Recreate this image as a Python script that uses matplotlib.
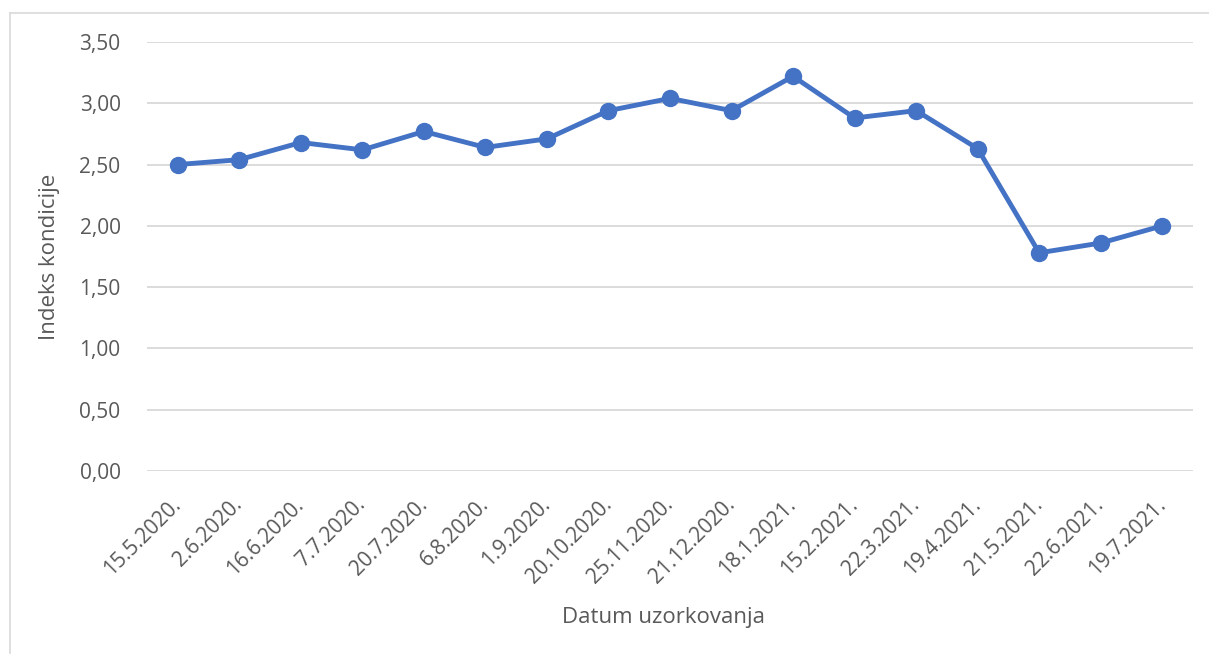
import matplotlib
matplotlib.use('Agg')
import matplotlib.pyplot as plt
from matplotlib.lines import Line2D

# sampling dates and condition index values
datumi = ['15.5.2020.', '2.6.2020.', '16.6.2020.', '7.7.2020.', '20.7.2020.',
          '6.8.2020.', '1.9.2020.', '20.10.2020.', '25.11.2020.', '21.12.2020.',
          '18.1.2021.', '15.2.2021.', '22.3.2021.', '19.4.2021.', '21.5.2021.',
          '22.6.2021.', '19.7.2021.']
indeks = [2.50, 2.54, 2.68, 2.62, 2.77, 2.64, 2.71, 2.94, 3.04, 2.94,
          3.22, 2.88, 2.94, 2.63, 1.78, 1.86, 2.00]
y_ticks = [0, 0.5, 1.0, 1.5, 2.0, 2.5, 3.0, 3.5]

plt.rcParams['font.family'] = ['Open Sans', 'DejaVu Sans']
txt_color = '#595959'
grid_color = '#D9D9D9'

fig = plt.figure(figsize=(12.09, 6.55), dpi=100)
ax = fig.add_axes([147 / 1209, 1 - 471 / 655, (1193 - 147) / 1209, (471 - 42) / 655])

x = list(range(len(datumi)))
ax.plot(x, indeks, color='#4472C4', linewidth=3.5, marker='o', markersize=11.5,
        solid_capstyle='round', solid_joinstyle='round', zorder=3)

ax.set_xlim(-0.5, len(datumi) - 0.5)
ax.set_ylim(0, 3.5)
ax.set_yticks(y_ticks)
ax.set_yticklabels(['{:.2f}'.format(v).replace('.', ',') for v in y_ticks])
ax.set_xticks(x)
ax.set_xticklabels(datumi, rotation=45, ha='right', va='center', rotation_mode='anchor')

ax.grid(axis='y', color=grid_color, linewidth=1.3)
ax.set_axisbelow(True)
for s in ax.spines.values():
    s.set_visible(False)
ax.tick_params(length=0, colors=txt_color, labelsize=15)
ax.tick_params(axis='y', pad=19)
ax.tick_params(axis='x', pad=22)

ax.set_ylabel('Indeks kondicije', color=txt_color, fontsize=16, labelpad=14)
fig.text(664 / 1209, 1 - 617 / 655, 'Datum uzorkovanja', color=txt_color,
         fontsize=16, ha='center', va='center')

# chart border (left and top edges)
fig.add_artist(Line2D([10 / 1209, 10 / 1209], [0.003, 1 - 13 / 655],
                      transform=fig.transFigure, color=grid_color, linewidth=1.2))
fig.add_artist(Line2D([10 / 1209, 1.0], [1 - 13 / 655, 1 - 13 / 655],
                      transform=fig.transFigure, color=grid_color, linewidth=1.2))

fig.savefig('out.png', dpi=100, facecolor='white')
